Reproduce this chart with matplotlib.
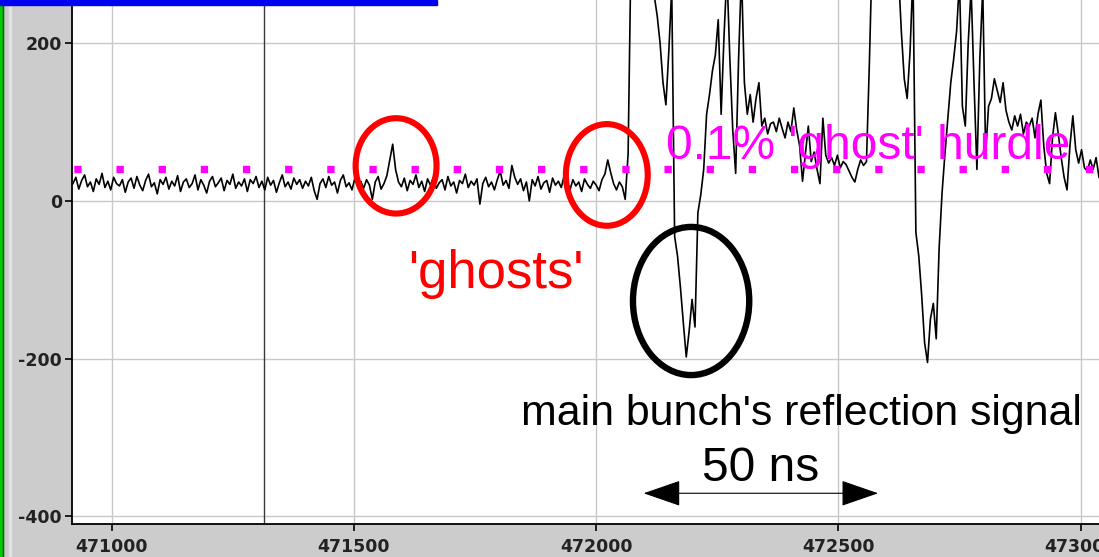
import numpy as np
import matplotlib
matplotlib.use('Agg')
import matplotlib.pyplot as plt
from matplotlib.patches import Ellipse, FancyArrowPatch, Rectangle

plt.rcParams['axes.unicode_minus'] = False

# scope trace, one reading every 6 samples starting at 470920
t_start = 470920
t_step = 6
trace = [
    22, 30, 15, 26, 33, 18, 24, 12, 28, 21, 35, 17, 25, 14, 30, 22, 19, 27, 11, 24,
    29, 16, 31, 20, 13, 26, 34, 18, 23, 9, 27, 21, 30, 15, 25, 19, 32, 12, 24, 28,
    17, 22, 33, 14, 27, 20, 10, 25, 31, 18, 23, 29, 13, 26, 21, 34, 16, 24, 19, 28,
    12, 27, 22, 31, 17, 25, 14, 30, 20, 26, 11, 23, 33, 18, 24, 15, 29, 21, 27, 16,
    25, 19, 30, 13, 2, 22, 28, 17, 31, 20, 24, 10, 26, 33, 18, 23, 14, 29, 21, 25,
    16, 27, 20, 2, 24, 31, 15, 22, 32, 52, 72, 40, 24, 18, 29, 13, 26, 21, 33, 17,
    25, 12, 28, 20, 30, 16, 23, 27, 14, 31, 19, 24, 10, 26, 22, 34, 17, 25, 20, 28,
    -4, 22, 30, 18, 24, 14, 27, 38, 20, 26, 16, 45, 30, 21, 28, 13, 24, 0, 27, 19,
    31, 15, 23, 26, 11, 29, 20, 25, 17, 32, 22, 14, 27, 19, 24, 12, 28, 21, 16, 25,
    20, 13, 27, 34, 52, 36, 22, 14, 24, 18,
    2, 60, 320, 350, 380, 400, 390, 370, 350, 300,
    260, 235, 200, 150, 122, 190, 270, -45, -70, -110,
    -155, -198, -165, -125, -160, -15, 8, 40, 110, 135,
    165, 185, 230, 110, 210, 290, 180, 90, 35, 180,
    290, 150, 110, 135, 100, 130, 150, 95, 105, 85,
    98, 100, 88, 105, 92, 80, 100, 88, 118, 90,
    70, 25, 60, 95, 50, 62, 40, 22, 105, 58,
    48, 55, 45, 58, 42, 50, 46, 38, 30, 24,
    40, 52, 45, 50, 175, 320, 350, 380, 400, 400,
    390, 380, 360, 340, 290, 215, 155, 130, 190, 290,
    -40, -70, -120, -180, -205, -150, -130, -175, -60, 10,
    60, 105, 150, 180, 215, 280, 120, 95, 200, 270,
    150, 40, 180, 270, 60, 120, 130, 155, 140, 125,
    150, 115, 100, 90, 108, 95, 110, 85, 100, 95,
    105, 80, 110, 128, 70, 35, 22, 80, 112, 85,
    55, 30, 14, 70, 108, 65, 48, 65, 42, 38,
    52, 40, 55, 30,
]

hurdle = 41
cursor = 471314
x_ticks = [471000, 471500, 472000, 472500, 473000]
y_ticks = [-400, -200, 0, 200]
x_range = (470917, 473038)
y_range = (-410, 255)

# ellipses drawn round the features: (centre x, centre y, width, height)
ghost_rings = [(471587, 44.5, 167, 121), (472022, 33, 169, 129)]
bunch_ring = (472196, -127, 240, 188)
arrow_span = (472098, 472582, -371)

W, H = 1099, 557
fig = plt.figure(figsize=(W / 100, H / 100), dpi=100, facecolor='#cccccc')

# window frame bits
fig.patches.append(Rectangle((0, 0), 2.5 / W, 1, transform=fig.transFigure, color='#00c800', zorder=0))
fig.patches.append(Rectangle((2.5 / W, 0), 0.8 / W, 1, transform=fig.transFigure, color='#404040', zorder=0))
fig.patches.append(Rectangle((8.5 / W, 0), 2.5 / W, 1, transform=fig.transFigure, color='#e2e2e2', zorder=0))

ax = fig.add_axes([71.5 / W, 33 / H, (W - 71.5) / W, 524 / H])
ax.set_facecolor('white')

t = t_start + t_step * np.arange(len(trace))
ax.plot(t, trace, color='black', lw=1.2, zorder=3)

ax.axvline(cursor, color='#3a3a3a', lw=1.0, zorder=2)
ax.axhline(hurdle, color='#ff00ff', lw=5.26, linestyle=(5.52, (1, 4.77)),
           dash_capstyle='butt', zorder=4)

ax.set_xlim(*x_range)
ax.set_ylim(*y_range)
ax.set_xticks(x_ticks)
ax.set_yticks(y_ticks)
ax.grid(True, color='#c8c8c8', lw=1.0, zorder=0)
ax.set_axisbelow(True)
for s in ['top', 'right']:
    ax.spines[s].set_visible(False)
for s in ['left', 'bottom']:
    ax.spines[s].set_linewidth(1.3)
ax.tick_params(direction='out', length=5, width=1.2, labelsize=12.5,
               labelcolor='#222222')
ax.tick_params(axis='y', pad=2)
ax.tick_params(axis='x', pad=5)
for lab in ax.get_xticklabels() + ax.get_yticklabels():
    lab.set_fontweight('bold')
    lab.set_family('DejaVu Sans')

for cx, cy, w, h in ghost_rings:
    ax.add_patch(Ellipse((cx, cy), w, h, fill=False, edgecolor='#ff0000', lw=4.4, zorder=5))
cx, cy, w, h = bunch_ring
ax.add_patch(Ellipse((cx, cy), w, h, fill=False, edgecolor='black', lw=4.6, zorder=5))

x0, x1, ya = arrow_span
ax.add_patch(FancyArrowPatch((x0, ya), (x1, ya), arrowstyle='<|-|>,head_length=24,head_width=8.3',
                             mutation_scale=1, color='black', lw=0.8, shrinkA=0, shrinkB=0, zorder=5))

font = 'Liberation Sans'
ax.text(472145, 53, "0.1% 'ghost' hurdle", color='#ff00ff', fontsize=34.5, family=font,
        va='baseline', ha='left', zorder=6)
ax.text(471612, -110, "'ghosts'", color='#ff0000', fontsize=38, family=font,
        va='baseline', ha='left', zorder=6)
ax.text(471845, -284, "main bunch's reflection signal", color='black', fontsize=30.9, family=font,
        va='baseline', ha='left', zorder=6)
ax.text(472219, -356, "50 ns", color='black', fontsize=34.5, family=font,
        va='baseline', ha='left', zorder=6)

fig.patches.append(Rectangle((0, 1 - 5 / H), 437 / W, 5 / H, transform=fig.transFigure,
                             color='#0000f0', zorder=10))

fig.savefig('out.png', dpi=100, facecolor=fig.get_facecolor())
